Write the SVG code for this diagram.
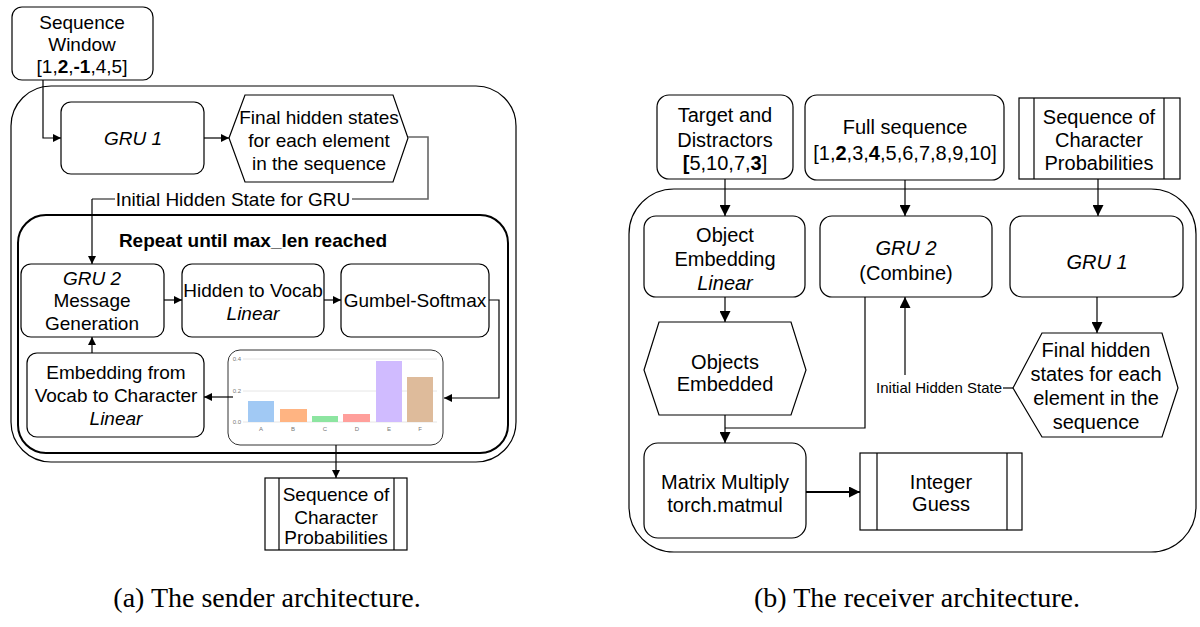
<svg xmlns="http://www.w3.org/2000/svg" width="1200" height="627" viewBox="0 0 1200 627">
<style>
.box{fill:#fff;stroke:#000;stroke-width:1.2}
.grp{fill:none;stroke:#000;stroke-width:1.2}
.t{font-family:"Liberation Sans",Arial,sans-serif;font-size:19px;text-anchor:middle;fill:#000}
.r{font-size:20px}
.it{font-style:italic}
.b{font-weight:bold}
.conn{fill:none;stroke:#000;stroke-width:1.2}
.gray{fill:none;stroke:#666;stroke-width:1.6}
.ax{font-family:"Liberation Sans",Arial,sans-serif;font-size:6px;fill:#777}
.grid{stroke:#e6e6e6;stroke-width:1}
.cap{font-family:"Liberation Serif","Times New Roman",serif;font-size:28px;text-anchor:middle;fill:#000}
</style>
<defs>
<marker id="arr" viewBox="0 0 10 10" refX="10" refY="5" markerWidth="8" markerHeight="8" markerUnits="userSpaceOnUse" orient="auto"><path d="M0,0 L10,5 L0,10 z" fill="#000"/></marker>
<marker id="arrL" viewBox="0 0 10 10" refX="10" refY="5" markerWidth="11" markerHeight="11" markerUnits="userSpaceOnUse" orient="auto"><path d="M0,0 L10,5 L0,10 z" fill="#000"/></marker>
</defs>
<rect width="1200" height="627" fill="#fff"/>

<!-- ===== Sender (a) ===== -->
<g id="sender-container"><rect class="grp" x="11" y="86" width="505" height="376" rx="40"/></g>
<g id="repeat-loop"><rect class="grp" x="18" y="215" width="490" height="238" rx="28" style="stroke-width:2"/>
<text class="t b" x="253" y="247">Repeat until max_len reached</text></g>

<g id="seq-window"><rect class="box" x="12" y="7" width="141" height="73" rx="10"/>
<text class="t" x="82" y="29">Sequence</text>
<text class="t" x="82" y="51">Window</text>
<text class="t" x="82" y="73">[1,<tspan class="b">2</tspan>,<tspan class="b">-1</tspan>,4,5]</text></g>

<g id="gru1-s"><rect class="box" x="61" y="102" width="143" height="72" rx="10"/>
<text class="t it" x="133" y="145">GRU 1</text></g>

<g id="final-hidden-s"><polygon class="box" points="229,138 245,95 393,95 408,138 393,182 245,182"/>
<text class="t" x="319" y="124">Final hidden states</text>
<text class="t" x="319" y="147">for each element</text>
<text class="t" x="319" y="170">in the sequence</text></g>

<g id="gru2-s"><rect class="box" x="21" y="264" width="143" height="73" rx="10"/>
<text class="t it" x="92" y="285">GRU 2</text>
<text class="t" x="92" y="307">Message</text>
<text class="t" x="92" y="330">Generation</text></g>

<g id="hidden-vocab"><rect class="box" x="182" y="264" width="142" height="73" rx="10"/>
<text class="t" x="253" y="297">Hidden to Vocab</text>
<text class="t it" x="253" y="320">Linear</text></g>

<g id="gumbel"><rect class="box" x="341" y="264" width="148" height="73" rx="10"/>
<text class="t" x="415" y="307">Gumbel-Softmax</text></g>

<g id="embedding"><rect class="box" x="27" y="353" width="177" height="84" rx="10"/>
<text class="t" x="116" y="379">Embedding from</text>
<text class="t" x="116" y="402">Vocab to Character</text>
<text class="t it" x="116" y="425">Linear</text></g>

<g id="chart"><rect x="228" y="350" width="215" height="95" rx="12" fill="#fff" stroke="#333" stroke-width="1"/>
<line class="grid" x1="243" y1="359" x2="437" y2="359"/>
<line class="grid" x1="243" y1="391" x2="437" y2="391"/>
<line class="grid" x1="243" y1="422" x2="437" y2="422"/>
<text class="ax" x="241" y="361" text-anchor="end">0.4</text>
<text class="ax" x="241" y="393" text-anchor="end">0.2</text>
<text class="ax" x="241" y="424" text-anchor="end">0.0</text>
<rect x="248" y="401" width="26" height="21" fill="#a1c9f4"/>
<rect x="280" y="409" width="27" height="13" fill="#ffb482"/>
<rect x="312" y="416" width="26" height="6" fill="#8de5a1"/>
<rect x="343" y="414" width="27" height="8" fill="#ff9f9b"/>
<rect x="376" y="361" width="26" height="61" fill="#d0bbff"/>
<rect x="407" y="377" width="26" height="45" fill="#debb9b"/>
<text class="ax" x="261" y="431" text-anchor="middle">A</text>
<text class="ax" x="293" y="431" text-anchor="middle">B</text>
<text class="ax" x="325" y="431" text-anchor="middle">C</text>
<text class="ax" x="357" y="431" text-anchor="middle">D</text>
<text class="ax" x="389" y="431" text-anchor="middle">E</text>
<text class="ax" x="420" y="431" text-anchor="middle">F</text></g>

<g id="scp-s"><rect class="box" x="265" y="478" width="142" height="72"/>
<line class="conn" x1="279" y1="478" x2="279" y2="550"/>
<line class="conn" x1="394" y1="478" x2="394" y2="550"/>
<text class="t" x="336" y="501">Sequence of</text>
<text class="t" x="336" y="524">Character</text>
<text class="t" x="336" y="544">Probabilities</text></g>

<!-- ===== Receiver (b) ===== -->
<g id="receiver-container"><rect class="grp" x="629" y="189" width="567" height="363" rx="45"/></g>

<g id="target-distractors"><rect class="box" x="657" y="95" width="136" height="84" rx="12"/>
<text class="t r" x="725" y="122">Target and</text>
<text class="t r" x="725" y="147">Distractors</text>
<text class="t r" x="725" y="170"><tspan class="b">[</tspan>5,10,7,<tspan class="b">3</tspan>]</text></g>

<g id="full-sequence"><rect class="box" x="805" y="95" width="199" height="85" rx="12"/>
<text class="t r" x="905" y="134">Full sequence</text>
<text class="t r" x="905" y="160">[1,<tspan class="b">2</tspan>,3,<tspan class="b">4</tspan>,5,6,7,8,9,10]</text></g>

<g id="scp-r"><rect class="box" x="1019" y="98" width="161" height="81"/>
<line class="conn" x1="1034" y1="98" x2="1034" y2="179"/>
<line class="conn" x1="1164" y1="98" x2="1164" y2="179"/>
<text class="t r" x="1099" y="124">Sequence of</text>
<text class="t r" x="1099" y="147">Character</text>
<text class="t r" x="1099" y="170">Probabilities</text></g>

<g id="object-embedding"><rect class="box" x="644" y="216" width="161" height="81" rx="12"/>
<text class="t r" x="725" y="242">Object</text>
<text class="t r" x="725" y="266">Embedding</text>
<text class="t r it" x="725" y="290">Linear</text></g>

<g id="gru2-r"><rect class="box" x="820" y="216" width="172" height="81" rx="12"/>
<text class="t r it" x="906" y="255">GRU 2</text>
<text class="t r" x="906" y="280">(Combine)</text></g>

<g id="gru1-r"><rect class="box" x="1010" y="216" width="173" height="81" rx="12"/>
<text class="t r it" x="1097" y="269">GRU 1</text></g>

<g id="objects-embedded"><polygon class="box" points="644,370 659,322 791,322 806,370 791,415 659,415"/>
<text class="t r" x="725" y="369">Objects</text>
<text class="t r" x="725" y="391">Embedded</text></g>

<g id="final-hidden-r"><polygon class="box" points="1013,388 1042,333 1162,333 1178,388 1162,437 1042,437"/>
<text class="t r" x="1096" y="357">Final hidden</text>
<text class="t r" x="1096" y="381">states for each</text>
<text class="t r" x="1096" y="405">element in the</text>
<text class="t r" x="1096" y="429">sequence</text></g>

<g id="matmul"><rect class="box" x="644" y="443" width="162" height="95" rx="14"/>
<text class="t r" x="725" y="489">Matrix Multiply</text>
<text class="t r" x="725" y="512">torch.matmul</text></g>

<g id="integer-guess"><rect class="box" x="860" y="453" width="162" height="77"/>
<line class="conn" x1="877" y1="453" x2="877" y2="530"/>
<line class="conn" x1="1007" y1="453" x2="1007" y2="530"/>
<text class="t r" x="941" y="489">Integer</text>
<text class="t r" x="941" y="511">Guess</text></g>

<!-- ===== Connectors ===== -->
<g id="connectors">
<path class="conn" d="M43,80 V138 H61" marker-end="url(#arr)"/>
<path class="conn" d="M204,138 H229" marker-end="url(#arr)"/>
<path class="gray" d="M408,137 H428 V199 H352"/>
<text class="t" x="233" y="206">Initial Hidden State for GRU</text>
<path class="gray" d="M115,199 H92"/>
<path class="conn" d="M92,199 V264" marker-end="url(#arr)"/>
<path class="conn" d="M164,300 H182" marker-end="url(#arr)"/>
<path class="conn" d="M324,300 H341" marker-end="url(#arr)"/>
<path class="conn" d="M489,300 H499 V398 H444" marker-end="url(#arr)"/>
<path class="conn" d="M233,397 H204" marker-end="url(#arr)"/>
<path class="conn" d="M92,353 V337" marker-end="url(#arr)"/>
<path class="conn" d="M336,445 V478" marker-end="url(#arr)"/>

<path class="conn" d="M725,179 V216" marker-end="url(#arrL)"/>
<path class="conn" d="M905,180 V216" marker-end="url(#arrL)"/>
<path class="conn" d="M1098,179 V216" marker-end="url(#arrL)"/>
<path class="conn" d="M725,297 V322" marker-end="url(#arrL)"/>
<path class="conn" d="M725,415 V443" marker-end="url(#arrL)"/>
<path class="conn" d="M865,297 V428 H725"/>
<path class="conn" d="M806,492 H860" style="stroke-width:2.2" marker-end="url(#arrL)"/>
<path class="conn" d="M1097,297 V333" marker-end="url(#arrL)"/>
<path class="conn" d="M1013,388 H1003"/>
<text x="1002" y="393" style="font-family:'Liberation Sans',Arial,sans-serif;font-size:15px;text-anchor:end">Initial Hidden State</text>
<path class="conn" d="M905,375 V297" marker-end="url(#arrL)"/>
</g>

<text class="cap" x="267" y="607">(a) The sender architecture.</text>
<text class="cap" x="917" y="607">(b) The receiver architecture.</text>
</svg>
